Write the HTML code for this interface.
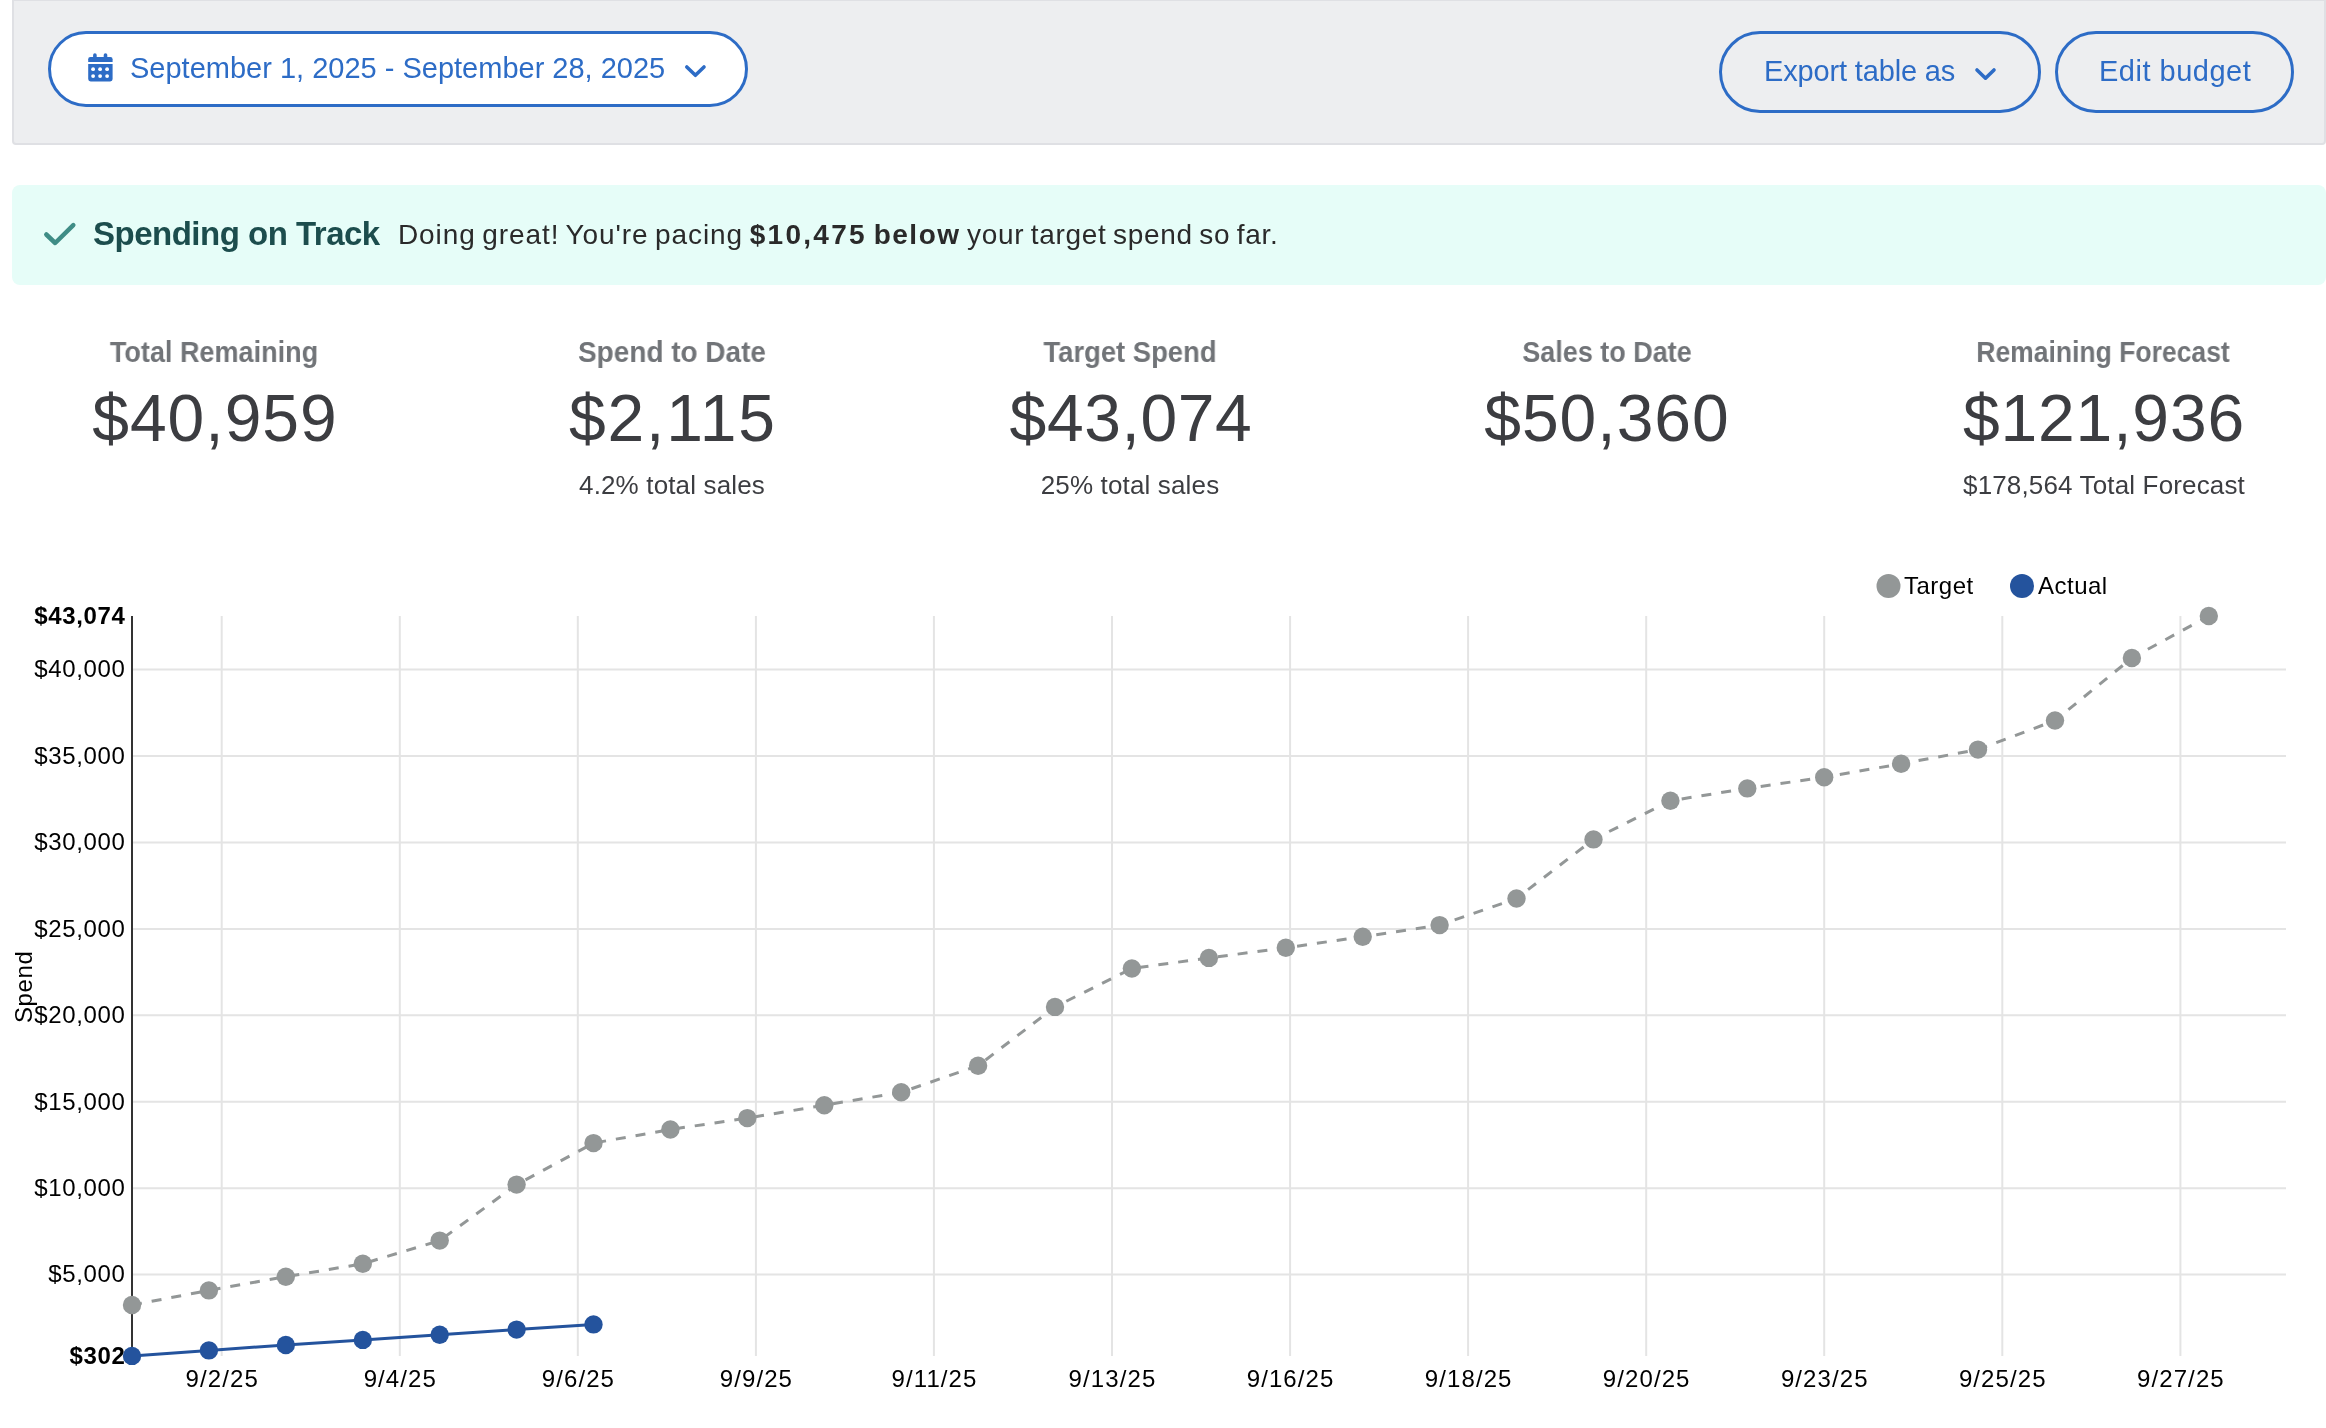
<!DOCTYPE html>
<html><head><meta charset="utf-8">
<style>
*{margin:0;padding:0;box-sizing:border-box}
html,body{width:2326px;height:1428px;overflow:hidden;background:#fff;font-family:"Liberation Sans",sans-serif;position:relative}
.abs{position:absolute;white-space:nowrap}
.hdr{position:absolute;left:12px;top:0;width:2314px;height:145px;background:#edeef0;border:2px solid #dfe0e4;border-top-width:1px;border-radius:0 0 4px 4px}
.btn{position:absolute;border:3px solid #2d6cc6;border-radius:42px;color:#2d6cc6}
.t{position:absolute;white-space:nowrap;line-height:1}
.banner{position:absolute;left:12px;top:185px;width:2314px;height:100px;background:#e6fdf8;border-radius:8px}
.kl{font-weight:bold;font-size:29px;color:#717478;transform:translateX(-50%)}
.kv{font-size:66px;color:#3c3d41;transform:translateX(-50%)}
.ks{font-size:26px;letter-spacing:0.15px;color:#3c3d41;transform:translateX(-50%)}
.chart{position:absolute;left:0;top:0;will-change:transform}
.t,.abs{will-change:transform}
</style></head><body>
<div class="hdr"></div>
<div class="btn" style="left:48px;top:31px;width:700px;height:76px;background:#fff"></div>
<svg class="abs" style="left:86px;top:52px" width="30" height="32" viewBox="86 52 30 32">
<g fill="#2d6cc6">
<rect x="93.1" y="53.3" width="3.6" height="6" rx="1.8"/>
<rect x="103.7" y="53.3" width="3.6" height="6" rx="1.8"/>
<path d="M88.2 62V59.3Q88.2 57.1 90.4 57.1H110.4Q112.6 57.1 112.6 59.3V62Z"/>
<path d="M88.2 64H112.6V79Q112.6 81.4 110.2 81.4H90.6Q88.2 81.4 88.2 79Z"/>
</g>
<g fill="#fff">
<circle cx="93.1" cy="69.2" r="1.9"/><circle cx="100.1" cy="69.2" r="1.9"/><circle cx="107.1" cy="69.2" r="1.9"/>
<circle cx="93.1" cy="76.1" r="1.9"/><circle cx="100.1" cy="76.1" r="1.9"/><circle cx="107.1" cy="76.1" r="1.9"/>
</g>
</svg>
<div class="t" style="left:130px;top:54px;font-size:29px;color:#2d6cc6">September 1, 2025 - September 28, 2025</div>
<svg class="abs" style="left:680px;top:60px" width="32" height="24" viewBox="680 60 32 24"><path d="M686.8 67L695.4 75.3L704 67" fill="none" stroke="#2d6cc6" stroke-width="3.6" stroke-linecap="round" stroke-linejoin="round"/></svg>
<div class="btn" style="left:1719px;top:31px;width:322px;height:82px"></div>
<div class="t" style="left:1764px;top:57px;font-size:29px;color:#2d6cc6;letter-spacing:-0.15px">Export table as</div>
<svg class="abs" style="left:1970px;top:62px" width="32" height="24" viewBox="1970 62 32 24"><path d="M1977 70L1985.5 78.2L1994 70" fill="none" stroke="#2d6cc6" stroke-width="3.6" stroke-linecap="round" stroke-linejoin="round"/></svg>
<div class="btn" style="left:2055px;top:31px;width:239px;height:82px"></div>
<div class="t" style="left:2099px;top:57px;font-size:29px;color:#2d6cc6;letter-spacing:0.5px">Edit budget</div>

<div class="banner"></div>
<svg class="abs" style="left:38px;top:215px" width="44" height="40" viewBox="38 215 44 40"><path d="M46.3 234.5L55.2 243L73.3 225.2" fill="none" stroke="#3f8d86" stroke-width="4.5" stroke-linecap="round" stroke-linejoin="round"/></svg>
<div class="t" style="left:93px;top:217px;font-size:33px;font-weight:bold;color:#1c4d4d;letter-spacing:-0.5px">Spending on Track</div>
<div class="t" style="left:398px;top:221px;font-size:28px;color:#2a2a2a;letter-spacing:0.9px;word-spacing:-2px">Doing great! You're pacing <b style="letter-spacing:2.3px">$10,475</b> <b style="letter-spacing:1.5px">below</b><span style="letter-spacing:0.7px"> your target spend so far.</span></div>

<div class="t kl" style="left:214px;top:338px;transform:translateX(-50%) scaleX(0.932)">Total Remaining</div>
<div class="t kv" style="left:215px;top:385px;letter-spacing:1px">$40,959</div>
<div class="t kl" style="left:672px;top:338px;transform:translateX(-50%) scaleX(0.964)">Spend to Date</div>
<div class="t kv" style="left:673px;top:385px;letter-spacing:1.8px">$2,115</div>
<div class="t ks" style="left:672px;top:472px">4.2% total sales</div>
<div class="t kl" style="left:1129.5px;top:338px;transform:translateX(-50%) scaleX(0.945)">Target Spend</div>
<div class="t kv" style="left:1130.5px;top:385px;letter-spacing:0.6px">$43,074</div>
<div class="t ks" style="left:1130px;top:472px">25% total sales</div>
<div class="t kl" style="left:1606.5px;top:338px;transform:translateX(-50%) scaleX(0.93)">Sales to Date</div>
<div class="t kv" style="left:1606.8px;top:385px;letter-spacing:1px">$50,360</div>
<div class="t kl" style="left:2103px;top:338px;transform:translateX(-50%) scaleX(0.914)">Remaining Forecast</div>
<div class="t kv" style="left:2103.5px;top:385px;letter-spacing:0.85px">$121,936</div>
<div class="t ks" style="left:2103.5px;top:472px">$178,564 Total Forecast</div>
<svg class="chart" width="2326" height="1428" viewBox="0 0 2326 1428">
<path d="M221.7 616V1356 M399.8 616V1356 M577.8 616V1356 M755.9 616V1356 M933.9 616V1356 M1112.0 616V1356 M1290.1 616V1356 M1468.1 616V1356 M1646.2 616V1356 M1824.2 616V1356 M2002.3 616V1356 M2180.4 616V1356 M133 1274.6H2286 M133 1188.2H2286 M133 1101.7H2286 M133 1015.3H2286 M133 928.9H2286 M133 842.4H2286 M133 756.0H2286 M133 669.6H2286" stroke="#e4e4e4" stroke-width="2" fill="none"/>
<path d="M132 616V1356" stroke="#333" stroke-width="2" fill="none"/>
<g font-family="Liberation Sans, sans-serif" font-size="24" fill="#000" text-anchor="end" letter-spacing="0.65">
<text x="125.6" y="623.8" font-weight="bold">$43,074</text>
<text x="125.6" y="677.4">$40,000</text>
<text x="125.6" y="763.8">$35,000</text>
<text x="125.6" y="850.2">$30,000</text>
<text x="125.6" y="936.7">$25,000</text>
<text x="125.6" y="1023.1">$20,000</text>
<text x="125.6" y="1109.5">$15,000</text>
<text x="125.6" y="1196.0">$10,000</text>
<text x="125.6" y="1282.4">$5,000</text>
<text x="125.6" y="1363.8" font-weight="bold">$302</text>
</g>
<g font-family="Liberation Sans, sans-serif" font-size="24" fill="#000" text-anchor="middle" letter-spacing="1.1">
<text x="222.2" y="1387">9/2/25</text>
<text x="400.3" y="1387">9/4/25</text>
<text x="578.4" y="1387">9/6/25</text>
<text x="756.4" y="1387">9/9/25</text>
<text x="934.5" y="1387">9/11/25</text>
<text x="1112.5" y="1387">9/13/25</text>
<text x="1290.6" y="1387">9/16/25</text>
<text x="1468.7" y="1387">9/18/25</text>
<text x="1646.7" y="1387">9/20/25</text>
<text x="1824.8" y="1387">9/23/25</text>
<text x="2002.8" y="1387">9/25/25</text>
<text x="2180.9" y="1387">9/27/25</text>
</g>
<text transform="translate(32 986.8) rotate(-90)" font-family="Liberation Sans, sans-serif" font-size="24" text-anchor="middle" fill="#000" letter-spacing="0.6">Spend</text>
<polyline points="132.0,1305.0 208.9,1290.4 285.8,1276.7 362.8,1263.8 439.7,1240.6 516.6,1184.6 593.5,1143.1 670.4,1129.5 747.3,1118.1 824.3,1105.2 901.2,1092.3 978.1,1065.7 1055.0,1006.9 1131.9,968.5 1208.9,957.9 1285.8,947.8 1362.7,936.7 1439.6,925.1 1516.5,898.5 1593.5,839.4 1670.4,800.7 1747.3,788.4 1824.2,777.2 1901.1,763.8 1978.0,749.6 2055.0,720.5 2131.9,658.0 2208.8,616.0" fill="none" stroke="#939797" stroke-width="3" stroke-dasharray="10 10"/>
<g fill="#939797"><circle cx="132.0" cy="1305.0" r="9.2"/><circle cx="208.9" cy="1290.4" r="9.2"/><circle cx="285.8" cy="1276.7" r="9.2"/><circle cx="362.8" cy="1263.8" r="9.2"/><circle cx="439.7" cy="1240.6" r="9.2"/><circle cx="516.6" cy="1184.6" r="9.2"/><circle cx="593.5" cy="1143.1" r="9.2"/><circle cx="670.4" cy="1129.5" r="9.2"/><circle cx="747.3" cy="1118.1" r="9.2"/><circle cx="824.3" cy="1105.2" r="9.2"/><circle cx="901.2" cy="1092.3" r="9.2"/><circle cx="978.1" cy="1065.7" r="9.2"/><circle cx="1055.0" cy="1006.9" r="9.2"/><circle cx="1131.9" cy="968.5" r="9.2"/><circle cx="1208.9" cy="957.9" r="9.2"/><circle cx="1285.8" cy="947.8" r="9.2"/><circle cx="1362.7" cy="936.7" r="9.2"/><circle cx="1439.6" cy="925.1" r="9.2"/><circle cx="1516.5" cy="898.5" r="9.2"/><circle cx="1593.5" cy="839.4" r="9.2"/><circle cx="1670.4" cy="800.7" r="9.2"/><circle cx="1747.3" cy="788.4" r="9.2"/><circle cx="1824.2" cy="777.2" r="9.2"/><circle cx="1901.1" cy="763.8" r="9.2"/><circle cx="1978.0" cy="749.6" r="9.2"/><circle cx="2055.0" cy="720.5" r="9.2"/><circle cx="2131.9" cy="658.0" r="9.2"/><circle cx="2208.8" cy="616.0" r="9.2"/></g>
<polyline points="132.0,1355.9 208.9,1350.4 285.8,1345.0 362.8,1339.9 439.7,1334.7 516.6,1329.6 593.5,1324.4" fill="none" stroke="#24539d" stroke-width="3"/>
<g fill="#24539d"><circle cx="132.0" cy="1355.9" r="9.2"/><circle cx="208.9" cy="1350.4" r="9.2"/><circle cx="285.8" cy="1345.0" r="9.2"/><circle cx="362.8" cy="1339.9" r="9.2"/><circle cx="439.7" cy="1334.7" r="9.2"/><circle cx="516.6" cy="1329.6" r="9.2"/><circle cx="593.5" cy="1324.4" r="9.2"/></g>
<circle cx="1888.5" cy="586" r="12" fill="#939797"/><circle cx="2022" cy="586" r="12" fill="#24539d"/>
<g font-family="Liberation Sans, sans-serif" font-size="24" fill="#000" letter-spacing="0.5"><text x="1904" y="594">Target</text><text x="2038" y="594">Actual</text></g>
</svg></body></html>
